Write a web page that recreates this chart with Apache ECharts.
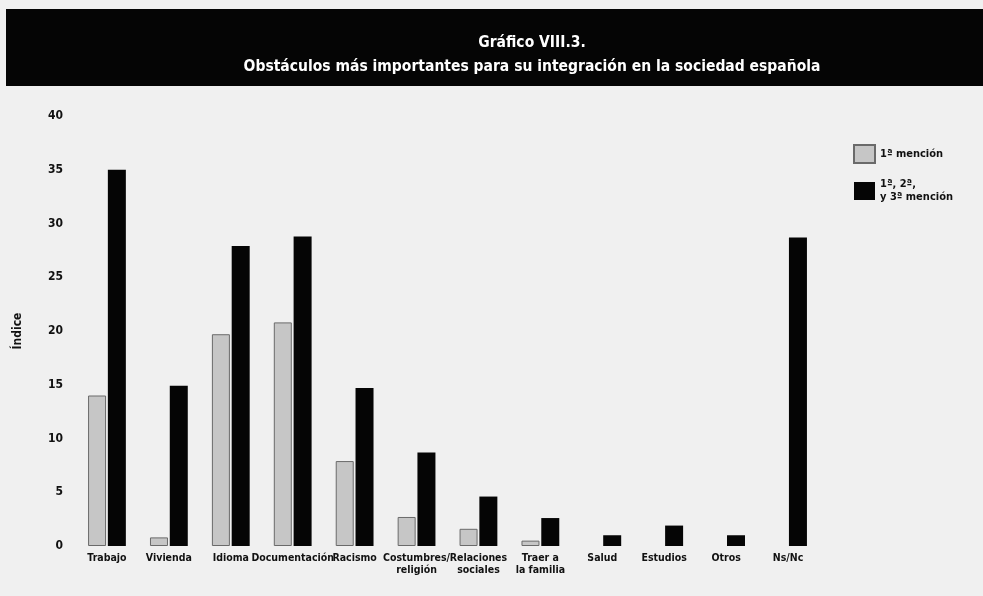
<!DOCTYPE html>
<html>
<head>
<meta charset="utf-8">
<title>Gráfico VIII.3.</title>
<script src="https://cdn.jsdelivr.net/npm/echarts@6/dist/echarts.min.js"></script>
<style>
	html, body { margin: 0; padding: 0; background: #f0f0f0; }
	#container { width: 983px; height: 596px; }
</style>
</head>
<body>
<div id="container"></div>
<script>
	// datos del gráfico
	var categorias = ['Trabajo', 'Vivienda', 'Idioma', 'Documentación', 'Racismo', 'Costumbres/\nreligión',
		'Relaciones\nsociales', 'Traer a\nla familia', 'Salud', 'Estudios', 'Otros', 'Ns/Nc'];
	var primeraMencion = [14, 0.8, 19.7, 20.8, 7.9, 2.7, 1.6, 0.5, '-', '-', '-', '-'];
	var tresMenciones = [35, 14.9, 27.9, 28.8, 14.7, 8.7, 4.6, 2.6, 1.0, 1.9, 1.0, 28.7];
	var ticksY = [0, 5, 10, 15, 20, 25, 30, 35, 40];
	var nombres = ['1ª mención', '1ª, 2ª,\ny 3ª mención'];

	var fuente = "'DejaVu Sans Condensed', 'Liberation Sans Narrow', sans-serif";

	function dibujarGrafico(){
		var dom = document.getElementById('container');
		var myChart = echarts.init(dom);
		var option = {
			backgroundColor: '#f0f0f0',
			animation: false,
			textStyle: { fontFamily: fuente },
			// banda negra del titulo
			graphic: [{
				type: 'rect',
				shape: { x: 6, y: 9, width: 983, height: 77 },
				style: { fill: '#050505' },
				z: 0
			}],
			title: {
				text: 'Gráfico VIII.3.\nObstáculos más importantes para su integración en la sociedad española',
				left: 527,
				top: 26,
				textAlign: 'center',
				textStyle: {
					color: '#ffffff',
					fontFamily: fuente,
					fontSize: 15.5,
					fontWeight: 'bold',
					lineHeight: 24
				},
				z: 5
			},
			legend: {
				orient: 'vertical',
				left: 848,
				top: 139,
				icon: 'rect',
				itemWidth: 21,
				itemHeight: 18,
				itemGap: 14,
				data: nombres,
				textStyle: { fontFamily: fuente, fontSize: 11, color: '#111', fontWeight: 'bold', lineHeight: 13 }
			},
			grid: { left: 76, top: 116, width: 743, height: 430 },
			xAxis: {
				type: 'category',
				data: categorias,
				axisLine: { show: false },
				axisTick: { show: false },
				axisLabel: {
					interval: 0,
					margin: 6,
					color: '#111',
					fontFamily: fuente,
					fontSize: 10.5,
					fontWeight: 'bold',
					lineHeight: 12
				}
			},
			yAxis: {
				type: 'value',
				min: ticksY[0],
				max: ticksY[ticksY.length - 1],
				interval: 5,
				name: 'Índice',
				nameLocation: 'middle',
				nameGap: 52,
				nameTextStyle: { color: '#111', fontFamily: fuente, fontSize: 12, fontWeight: 'bold' },
				axisLine: { show: false },
				axisTick: { show: false },
				splitLine: { show: false },
				axisLabel: { margin: 13, color: '#111', fontFamily: fuente, fontSize: 12, fontWeight: 'bold' }
			},
			series: [{
				name: nombres[0],
				type: 'bar',
				data: primeraMencion,
				barWidth: 18,
				barGap: '10%',
				itemStyle: { color: '#c6c6c6', borderColor: '#6a6a6a', borderWidth: 1 }
			}, {
				name: nombres[1],
				type: 'bar',
				data: tresMenciones,
				barWidth: 18,
				itemStyle: { color: '#050505' }
			}]
		};
		myChart.setOption(option);
	}

	dibujarGrafico();
</script>
</body>
</html>
